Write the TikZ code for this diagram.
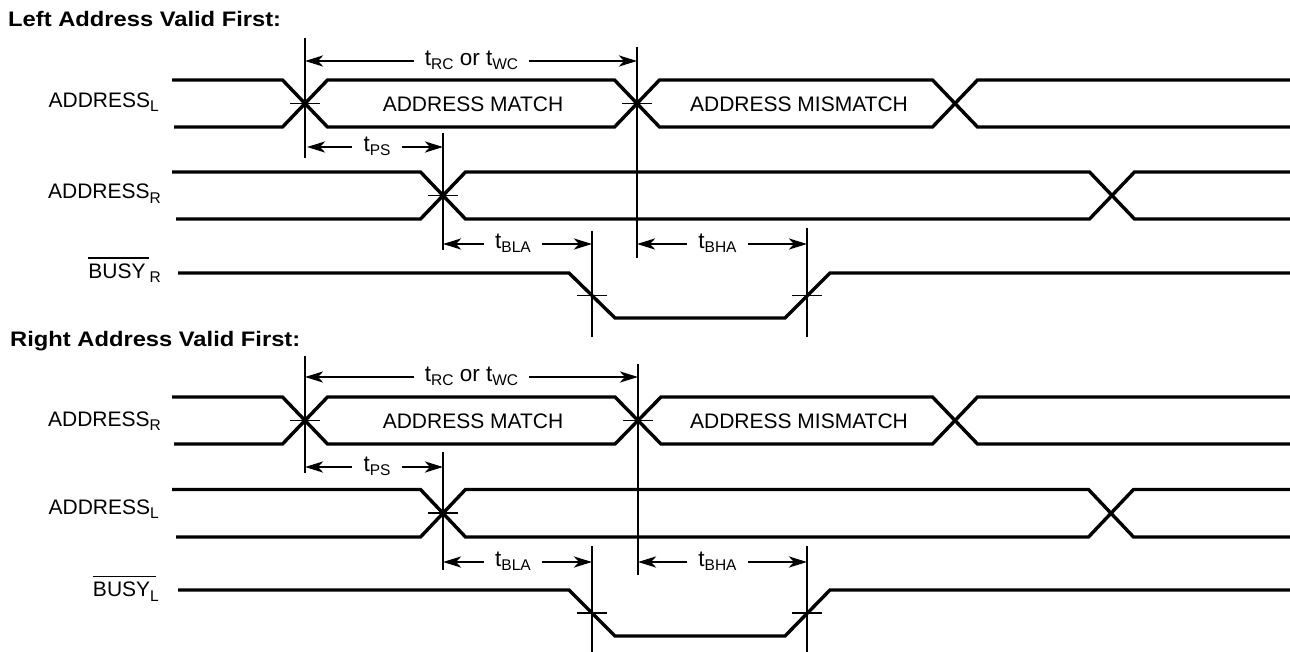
\documentclass[tikz,border=0pt]{standalone}
\usepackage{fontspec}
\usepackage{graphicx}
\setmainfont{Liberation Sans}
\usetikzlibrary{arrows.meta}
\newcommand\mysub[1]{\raisebox{-4.3pt}{\fontsize{15.5}{15.5}\selectfont #1}}
\newcommand\mytsub[1]{\raisebox{-4pt}{\fontsize{15.5}{15.5}\selectfont #1}}
\newcommand\myovl[2]{\setbox0\hbox{#1}\rlap{\rule[19.3pt]{\dimexpr\wd0+#2\relax}{1.9pt}}\box0}
\begin{document}
\begin{tikzpicture}[x=1pt,y=-1pt,
  sig/.style={line width=3.4pt},
  vline/.style={line width=1.9pt},
  tickmark/.style={line width=1.9pt},
  dimarrow/.style={line width=2.8pt,-{Stealth[length=18pt,width=11pt,inset=5pt]}},
  lab/.style={font=\fontsize{21}{21}\selectfont, inner sep=0pt},
  sigl/.style={lab, anchor=base east},
  dimlab/.style={font=\fontsize{22.5}{22.5}\selectfont, inner xsep=11pt, inner ysep=0pt},
  ttl/.style={font=\fontsize{21}{21}\selectfont\bfseries, inner sep=0pt, anchor=base west}]
\useasboundingbox (0,0) rectangle (1290,652);

% ================= Top: Left Address Valid First =================
\node[ttl] (title1) at (8,26.7) {\scalebox{1.13}[1]{Left Address Valid First:}};

\node[sigl] (aL1) at (159,107.3) {ADDRESS\mysub{L}};
\node[sigl] (aR1) at (161,199) {ADDRESS\mysub{R}};
\node[sigl] (bR1) at (161,278.3) {\myovl{BUSY}{3pt}\kern4pt\mysub{R}};

% ADDRESS_L (transitions 305, 637, 955)
\draw[sig] (172,80) -- (282.5,80) -- (327.5,127) -- (614.5,127) -- (659.5,80) -- (932.5,80) -- (977.5,127) -- (1290,127);
\draw[sig] (174,127) -- (282.5,127) -- (327.5,80) -- (614.5,80) -- (659.5,127) -- (932.5,127) -- (977.5,80) -- (1290,80);
\node[lab] (m1) at (473,104) {ADDRESS MATCH};
\node[lab] (mm1) at (799,104) {ADDRESS MISMATCH};

% ADDRESS_R (transitions 443, 1112)
\draw[sig] (172,172) -- (420.5,172) -- (465.5,219) -- (1089.5,219) -- (1134.5,172) -- (1290,172);
\draw[sig] (176,219) -- (420.5,219) -- (465.5,172) -- (1089.5,172) -- (1134.5,219) -- (1290,219);

% BUSY_R
\draw[sig] (178,273) -- (569,273) -- (615,318) -- (785,318) -- (830,273) -- (1290,273);

% ticks
\draw[tickmark] (290,103.5) -- (320,103.5);
\draw[tickmark] (622,103.5) -- (652,103.5);
\draw[tickmark] (428,195.5) -- (458,195.5);
\draw[tickmark] (577,295.5) -- (607,295.5);
\draw[tickmark] (792,295.5) -- (822,295.5);

% verticals
\coordinate (a1t) at (305,38);  \coordinate (a1b) at (305,158);
\coordinate (a2t) at (637,47);  \coordinate (a2b) at (637,258);
\coordinate (a3t) at (443,133); \coordinate (a3b) at (443,250);
\coordinate (a4t) at (592,231); \coordinate (a4b) at (592,337);
\coordinate (a5t) at (807,228); \coordinate (a5b) at (807,337);
\foreach \v in {a1,a2,a3,a4,a5} \draw[vline] (\v t) -- (\v b);

% dimension arrows
\node[dimlab] (trc1) at (471.5,60.5) {t\mytsub{RC} or t\mytsub{WC}};
\coordinate (trc1L) at (305,61); \coordinate (trc1R) at (637,61);
\draw[dimarrow] (trc1.west |- trc1L) -- (trc1L); \draw[dimarrow] (trc1.east |- trc1R) -- (trc1R);

\node[dimlab] (tps1) at (377,146.5) {t\mytsub{PS}};
\coordinate (tps1L) at (307,147); \coordinate (tps1R) at (443,147);
\draw[dimarrow] (tps1.west |- tps1L) -- (tps1L); \draw[dimarrow] (tps1.east |- tps1R) -- (tps1R);

\node[dimlab] (tbla1) at (513,243.5) {t\mytsub{BLA}};
\coordinate (tbla1L) at (443,244); \coordinate (tbla1R) at (592,244);
\draw[dimarrow] (tbla1.west |- tbla1L) -- (tbla1L); \draw[dimarrow] (tbla1.east |- tbla1R) -- (tbla1R);

\node[dimlab] (tbha1) at (717.5,243.5) {t\mytsub{BHA}};
\coordinate (tbha1L) at (637,244); \coordinate (tbha1R) at (807,244);
\draw[dimarrow] (tbha1.west |- tbha1L) -- (tbha1L); \draw[dimarrow] (tbha1.east |- tbha1R) -- (tbha1R);

% ================= Bottom: Right Address Valid First =================
\node[ttl] (title2) at (10,346.7) {\scalebox{1.13}[1]{Right Address Valid First:}};

\node[sigl] (aR2) at (161,426) {ADDRESS\mysub{R}};
\node[sigl] (aL2) at (159,514) {ADDRESS\mysub{L}};
\node[sigl] (bL2) at (159,596.7) {\myovl{BUSY}{6pt}\mysub{L}};

% ADDRESS_R (transitions 305, 638, 955)
\draw[sig] (172,397) -- (282.5,397) -- (327.5,444) -- (615,444) -- (661,397) -- (932.5,397) -- (977.5,444) -- (1290,444);
\draw[sig] (174,444) -- (282.5,444) -- (327.5,397) -- (615,397) -- (661,444) -- (932.5,444) -- (977.5,397) -- (1290,397);
\node[lab] (m2) at (473,421.5) {ADDRESS MATCH};
\node[lab] (mm2) at (799,421.5) {ADDRESS MISMATCH};

% ADDRESS_L (transitions 443, 1111)
\draw[sig] (172,489.5) -- (420.5,489.5) -- (465.5,537) -- (1088.5,537) -- (1133.5,489.5) -- (1290,489.5);
\draw[sig] (176,537) -- (420.5,537) -- (465.5,489.5) -- (1088.5,489.5) -- (1133.5,537) -- (1290,537);

% BUSY_L
\draw[sig] (178,590) -- (569,590) -- (615,636) -- (785,636) -- (830,590) -- (1290,590);

% ticks
\draw[tickmark] (290,420.5) -- (320,420.5);
\draw[tickmark] (623,420.5) -- (653,420.5);
\draw[tickmark] (428,513) -- (458,513);
\draw[tickmark] (577,613) -- (607,613);
\draw[tickmark] (792,613) -- (822,613);

% verticals
\coordinate (b1t) at (305,356); \coordinate (b1b) at (305,473);
\coordinate (b2t) at (638,364); \coordinate (b2b) at (638,575);
\coordinate (b3t) at (443,452); \coordinate (b3b) at (443,570);
\coordinate (b4t) at (592,546); \coordinate (b4b) at (592,652);
\coordinate (b5t) at (807,546); \coordinate (b5b) at (807,652);
\foreach \v in {b1,b2,b3,b4,b5} \draw[vline] (\v t) -- (\v b);

% dimension arrows
\node[dimlab] (trc2) at (471.5,376.5) {t\mytsub{RC} or t\mytsub{WC}};
\coordinate (trc2L) at (305,377); \coordinate (trc2R) at (638,377);
\draw[dimarrow] (trc2.west |- trc2L) -- (trc2L); \draw[dimarrow] (trc2.east |- trc2R) -- (trc2R);

\node[dimlab] (tps2) at (377,466.5) {t\mytsub{PS}};
\coordinate (tps2L) at (305,467); \coordinate (tps2R) at (443,467);
\draw[dimarrow] (tps2.west |- tps2L) -- (tps2L); \draw[dimarrow] (tps2.east |- tps2R) -- (tps2R);

\node[dimlab] (tbla2) at (513,561.5) {t\mytsub{BLA}};
\coordinate (tbla2L) at (443,562); \coordinate (tbla2R) at (592,562);
\draw[dimarrow] (tbla2.west |- tbla2L) -- (tbla2L); \draw[dimarrow] (tbla2.east |- tbla2R) -- (tbla2R);

\node[dimlab] (tbha2) at (717.5,561.5) {t\mytsub{BHA}};
\coordinate (tbha2L) at (638,562); \coordinate (tbha2R) at (807,562);
\draw[dimarrow] (tbha2.west |- tbha2L) -- (tbha2L); \draw[dimarrow] (tbha2.east |- tbha2R) -- (tbha2R);
\end{tikzpicture}
\end{document}
